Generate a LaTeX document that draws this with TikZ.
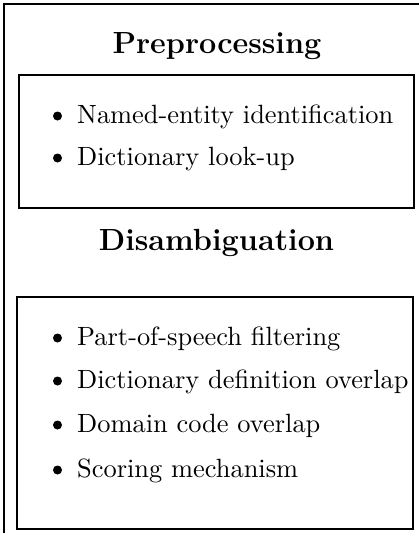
\documentclass[tikz,border=0pt]{standalone}
\usepackage{graphicx}
% text is set at its normal size and then magnified, keeping the 10pt/12pt letter shapes
\newcommand\enlarged[1]{\scalebox{2.55}{#1}}
\newcommand\enlargeditem[1]{\scalebox{2.64}{#1}}
\begin{document}
\begin{tikzpicture}[x=1pt,y=-1pt,
  frame/.style={line width=1.5pt},
  stagebox/.style={draw,line width=1.5pt},
  heading/.style={anchor=base,inner sep=0pt,font=\fontsize{12}{14}\selectfont\bfseries},
  itemtext/.style={anchor=base west,inner sep=0pt,font=\fontsize{10}{12}\selectfont},
  dot/.style={circle,fill=black,inner sep=0pt,minimum size=9pt}]
  \useasboundingbox (0,0) rectangle (419,533);
  % open outer frame (top and left sides only)
  \draw[frame] (4,533) -- (4,4) -- (419,4);
  % stage boxes
  \draw[stagebox] (19,75) rectangle (414,208);
  \draw[stagebox] (17,297) rectangle (413,529);
  % headings
  \node[heading] (pre) at (217,53) {\enlarged{Preprocessing}};
  \node[heading] (dis) at (216.5,250) {\enlarged{Disambiguation}};
  % first stage items
  \node[dot] (b1) at (57.5,116) {};
  \node[itemtext] (t1) at (77,123) {\enlargeditem{Named-entity identification}};
  \node[dot] (b2) at (57.5,158) {};
  \node[itemtext] (t2) at (77,165) {\enlargeditem{Dictionary look-up}};
  % second stage items
  \node[dot] (b3) at (57.5,338) {};
  \node[itemtext] (t3) at (77,345) {\enlargeditem{Part-of-speech filtering}};
  \node[dot] (b4) at (57.5,381) {};
  \node[itemtext] (t4) at (77,388) {\enlargeditem{Dictionary definition overlap}};
  \node[dot] (b5) at (57.5,425) {};
  \node[itemtext] (t5) at (77,432) {\enlargeditem{Domain code overlap}};
  \node[dot] (b6) at (57.5,470) {};
  \node[itemtext] (t6) at (77,477) {\enlargeditem{Scoring mechanism}};
\end{tikzpicture}
\end{document}
